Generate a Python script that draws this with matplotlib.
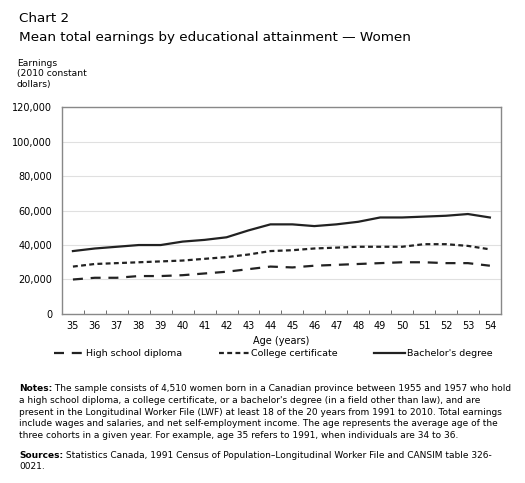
import matplotlib
matplotlib.use('Agg')
import matplotlib.pyplot as plt
from matplotlib.ticker import FuncFormatter, MultipleLocator

ages = list(range(35, 55))
high_school = [20000, 21000, 21000, 22000, 22000, 22500, 23500, 24500, 26000, 27500,
               27000, 28000, 28500, 29000, 29500, 30000, 30000, 29500, 29500, 28000]
college = [27500, 29000, 29500, 30000, 30500, 31000, 32000, 33000, 34500, 36500,
           37000, 38000, 38500, 39000, 39000, 39000, 40500, 40500, 39500, 37500]
bachelor = [36500, 38000, 39000, 40000, 40000, 42000, 43000, 44500, 48500, 52000,
            52000, 51000, 52000, 53500, 56000, 56000, 56500, 57000, 58000, 56000]
series_labels = ["High school diploma", "College certificate", "Bachelor's degree"]

plt.rcParams['font.family'] = 'DejaVu Sans'
fig = plt.figure(figsize=(5.25, 4.83), dpi=100)
ax = fig.add_axes([0.118, 0.350, 0.836, 0.428])

ax.plot(ages, high_school, color='#222222', lw=1.6, dashes=(4.5, 3.5), label=series_labels[0])
ax.plot(ages, college, color='#222222', lw=1.6, dashes=(2.2, 1.5), label=series_labels[1])
ax.plot(ages, bachelor, color='#222222', lw=1.6, label=series_labels[2])

ax.set_xlim(34.5, 54.5)
ax.set_ylim(0, 120000)
ax.set_xticks(ages)
ax.xaxis.set_minor_locator(MultipleLocator(1, offset=0.5))
ax.tick_params(axis='x', which='major', length=0, labelsize=7, pad=5)
ax.tick_params(axis='x', which='minor', length=3, direction='in', color='#555555')
ax.tick_params(axis='y', length=0, labelsize=7, pad=7)
ax.yaxis.set_major_locator(MultipleLocator(20000))
ax.yaxis.set_major_formatter(FuncFormatter(lambda v, p: f"{int(v):,}"))
ax.grid(axis='y', color='#e0e0e0', lw=0.8)
ax.set_axisbelow(True)
for s in ax.spines.values():
    s.set_color('#888888')
    s.set_linewidth(1.0)
ax.set_xlabel("Age (years)", fontsize=7, labelpad=4)

fig.legend(loc='center', bbox_to_anchor=(0.52, 0.268), ncol=3, frameon=False,
           fontsize=6.8, handlelength=3.2, handletextpad=0.2, columnspacing=3.9)

fig.text(0.036, 0.975, "Chart 2", fontsize=9.7, va='top')
fig.text(0.036, 0.935, "Mean total earnings by educational attainment \u2014 Women",
         fontsize=9.7, va='top')
fig.text(0.032, 0.878, "Earnings\n(2010 constant\ndollars)", fontsize=6.6, va='top',
         linespacing=1.2)

notes_rest = [
    " The sample consists of 4,510 women born in a Canadian province between 1955 and 1957 who hold",
    "a high school diploma, a college certificate, or a bachelor's degree (in a field other than law), and are",
    "present in the Longitudinal Worker File (LWF) at least 18 of the 20 years from 1991 to 2010. Total earnings",
    "include wages and salaries, and net self-employment income. The age represents the average age of the",
    "three cohorts in a given year. For example, age 35 refers to 1991, when individuals are 34 to 36.",
]
sources_rest = [
    " Statistics Canada, 1991 Census of Population\u2013Longitudinal Worker File and CANSIM table 326-",
    "0021.",
]

fig.canvas.draw()
renderer = fig.canvas.get_renderer()
fs = 6.5
lh = 0.0245
x0 = 0.036


def block(head, lines, ytop):
    t = fig.text(x0, ytop, head, fontsize=fs, fontweight='bold', va='top')
    w = t.get_window_extent(renderer).width / fig.bbox.width
    fig.text(x0 + w, ytop, lines[0], fontsize=fs, va='top')
    for i, ln in enumerate(lines[1:], 1):
        fig.text(x0, ytop - i * lh, ln, fontsize=fs, va='top')


block("Notes:", notes_rest, 0.205)
block("Sources:", sources_rest, 0.067)

fig.savefig("out.png", dpi=100)
